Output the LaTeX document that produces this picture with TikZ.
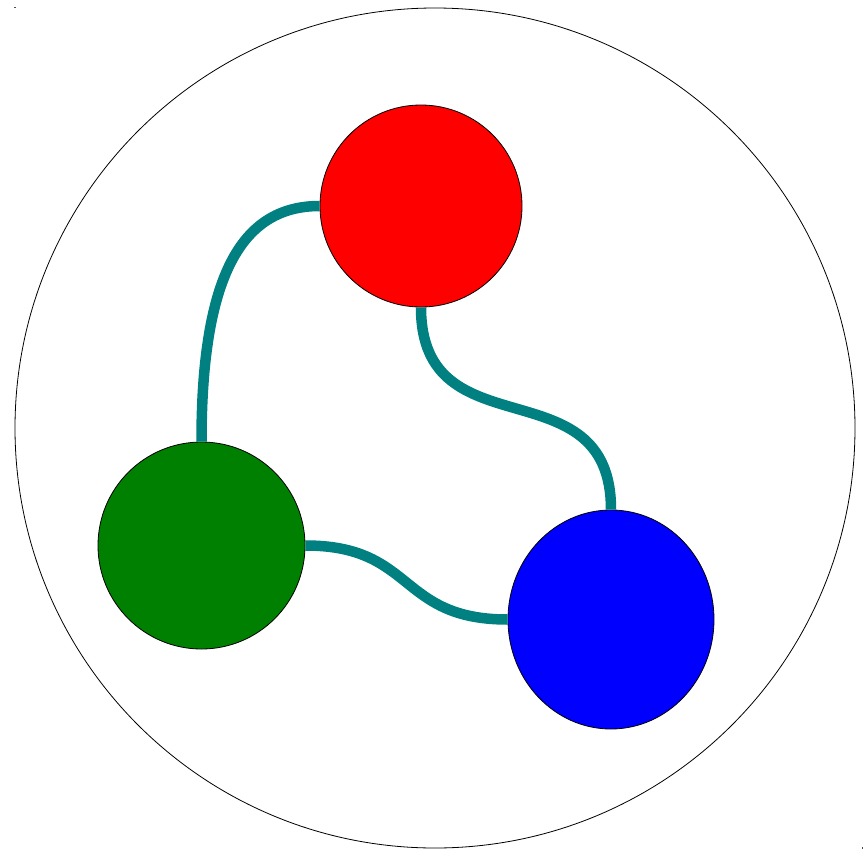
\documentclass[tikz,border=0pt]{standalone}
\usetikzlibrary{shapes.geometric}
\definecolor{dgreen}{RGB}{0,128,0}
\definecolor{linkteal}{RGB}{0,128,128}
\begin{document}
\begin{tikzpicture}[x=1pt,y=-1pt,
  ball/.style={circle, draw=black, line width=0.8pt, inner sep=0pt, minimum size=#1},
  link/.style={draw=linkteal, line width=10.5pt},
  tick/.style={fill=black!70}]
\useasboundingbox (0,0) rectangle (863,849);
\node[circle, draw=black, line width=0.8pt, inner sep=0pt, minimum size=840pt] (frame) at (435,428) {};
\node[ball=202pt, fill=red] (r) at (421,206) {};
\node[ball=207pt, fill=dgreen] (g) at (201.5,545.5) {};
\node[ellipse, draw=black, line width=0.8pt, inner sep=0pt, fill=blue, minimum width=206pt, minimum height=219pt] (b) at (611,619.5) {};
\draw[link] (r.west) .. controls +(-80,0) and +(0,-162) .. (g.north);
\draw[link] (r.south) .. controls +(0,147) and +(0,-147) .. (b.north);
\draw[link] (g.east) .. controls +(110,0) and +(-110,0) .. (b.west);
\coordinate (c1) at (14,7);
\coordinate (c2) at (861.5,847);
\fill[tick] (c1) rectangle +(1.5,1);
\fill[tick] (c2) rectangle +(1.5,1.5);
\end{tikzpicture}
\end{document}
